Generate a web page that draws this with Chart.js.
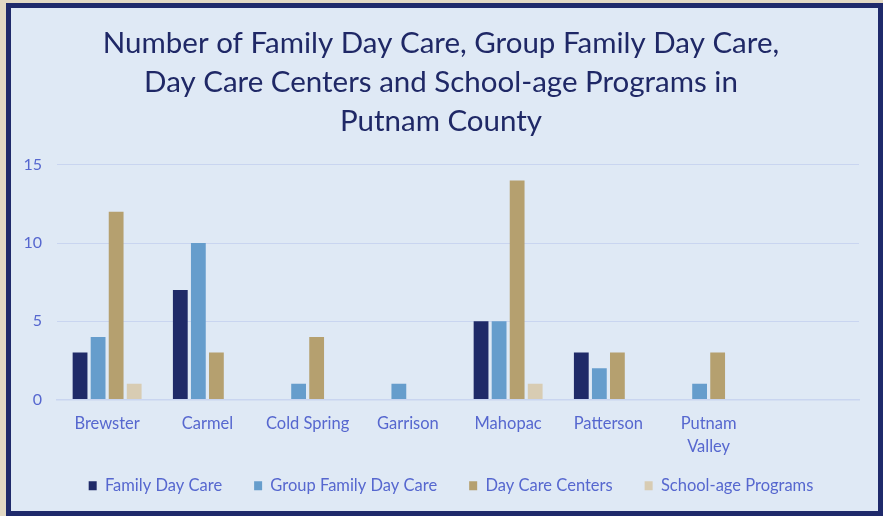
<!DOCTYPE html>
<html>
<head>
<meta charset="utf-8">
<script src="https://cdn.jsdelivr.net/npm/chart.js@4"></script>
<style>
  html, body { margin: 0; padding: 0; background: #e2d9c4; overflow: hidden; }
  #frame {
    position: absolute; left: 6px; top: 3px;
    width: 867px; height: 503px;
    border: 5px solid #1f2a6b;
    background: #dfe9f5;
  }
  #chart { display: block; }
</style>
</head>
<body>
<div id="frame"><canvas id="chart" width="867" height="503"></canvas></div>
<script>
// categories (last one is an empty slot like in the original sheet)
const towns = ["Brewster", "Carmel", "Cold Spring", "Garrison", "Mahopac", "Patterson", ["Putnam", "Valley"], ""];
const familyDayCare = [3, 7, 0, 0, 5, 3, 0, null];
const groupFamilyDayCare = [4, 10, 1, 1, 5, 2, 1, null];
const dayCareCenters = [12, 3, 4, 0, 14, 3, 3, null];
const schoolAgePrograms = [1, 0, 0, 0, 1, 0, 0, null];
const yTicks = [0, 5, 10, 15];

const labelBlue = "#5667cf";
const font = "Lato, 'Noto Sans', sans-serif";

// chart.js centres the legend row including its trailing padding,
// and keeps a big gap above it - nudge it back
const legendNudge = {
  id: "legendNudge",
  afterLayout(chart) {
    chart.legend.left += 10;
    chart.legend.right += 10;
    chart.legend.top -= 14;
    chart.legend.bottom -= 14;
  },
};

const ctx = document.getElementById("chart").getContext("2d");
new Chart(ctx, {
  type: "bar",
  data: {
    labels: towns,
    datasets: [
      { label: "Family Day Care", data: familyDayCare, backgroundColor: "#1f2a68" },
      { label: "Group Family Day Care", data: groupFamilyDayCare, backgroundColor: "#669dcc" },
      { label: "Day Care Centers", data: dayCareCenters, backgroundColor: "#b5a06f" },
      { label: "School-age Programs", data: schoolAgePrograms, backgroundColor: "#d8ccb3" },
    ],
  },
  options: {
    responsive: false,
    animation: false,
    datasets: {
      bar: { categoryPercentage: 0.72, barPercentage: 0.82, borderWidth: 0 },
    },
    layout: { padding: { left: 12, right: 19, top: 0, bottom: -7 } },
    scales: {
      x: {
        afterFit: (scale) => { scale.height = 60; },
        grid: { display: false, drawTicks: false },
        border: { color: "#c9d5f0", width: 1.5 },
        ticks: { color: labelBlue, font: { family: font, size: 16.5, lineHeight: 1.4 }, padding: 13, maxRotation: 0, autoSkip: false },
      },
      y: {
        min: 0,
        max: 15,
        afterBuildTicks: (scale) => { scale.ticks = yTicks.map((v) => ({ value: v })); },
        afterFit: (scale) => { scale.width = 34; },
        grid: { color: "#c9d5f0", drawTicks: false },
        border: { display: false },
        ticks: { color: labelBlue, font: { family: font, size: 16 }, padding: 15 },
      },
    },
    plugins: {
      title: {
        display: true,
        text: [
          "Number of Family Day Care, Group Family Day Care,",
          "Day Care Centers and School-age Programs in",
          "Putnam County",
        ],
        color: "#1f2866",
        font: { family: font, size: 29.5, weight: "normal", lineHeight: 1.32 },
        padding: { top: 16, bottom: 24 },
      },
      legend: {
        position: "bottom",
        labels: {
          color: labelBlue,
          font: { family: font, size: 16.5 },
          boxWidth: 8,
          boxHeight: 9,
          padding: 32,
        },
      },
      tooltip: { enabled: false },
    },
  },
  plugins: [legendNudge],
});
</script>
</body>
</html>
